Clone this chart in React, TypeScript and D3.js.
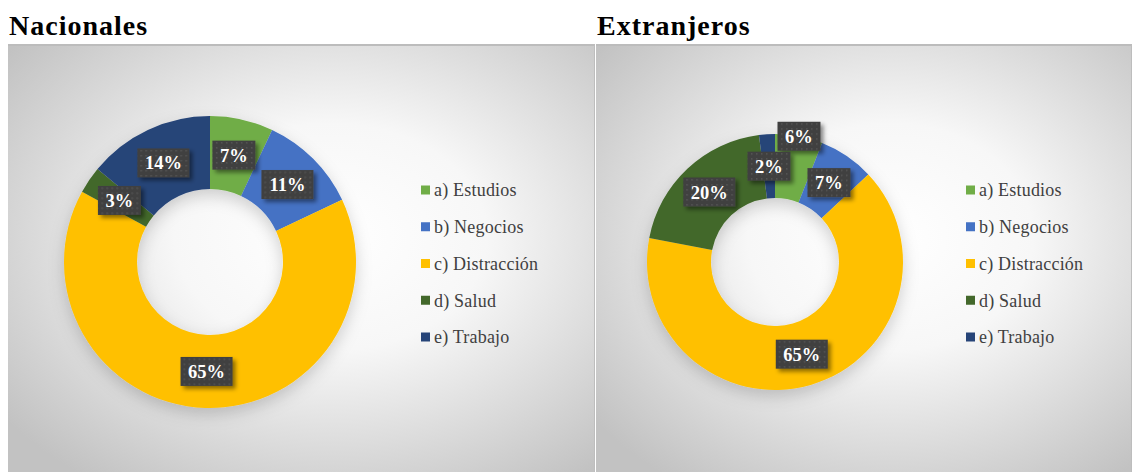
import React, { useEffect, useRef } from 'react';
import * as d3 from 'd3';

const categories = ['a) Estudios', 'b) Negocios', 'c) Distracción', 'd) Salud', 'e) Trabajo'];
const colors = ['#70AD47', '#4472C4', '#FFC000', '#43682B', '#264478'];
const nacionales = [7, 11, 65, 3, 14];
const extranjeros = [6, 7, 65, 20, 2];
const titles = ['Nacionales', 'Extranjeros'];

const W = 1132;
const H = 472;
const SERIF = "'Liberation Serif', 'Times New Roman', serif";

interface Panel {
  title: string;
  values: number[];
  x0: number;
  x1: number;
  cx: number;
  outer: number;
  legendX: number;
}

const App: React.FC = () => {
  const svgRef = useRef<SVGSVGElement>(null);

  useEffect(() => {
    if (!svgRef.current) return;
    const svg = d3.select(svgRef.current);
    svg.selectAll('*').remove();

    const defs = svg.append('defs');
    const grad = defs.append('radialGradient')
      .attr('id', 'bg')
      .attr('cx', '55%').attr('cy', '45%').attr('r', '70%');
    grad.append('stop').attr('offset', '0%').attr('stop-color', '#ffffff');
    grad.append('stop').attr('offset', '38%').attr('stop-color', '#f7f7f7');
    grad.append('stop').attr('offset', '100%').attr('stop-color', '#c2c2c2');

    // dotted texture of the label boxes
    const pat = defs.append('pattern')
      .attr('id', 'dots')
      .attr('patternUnits', 'userSpaceOnUse')
      .attr('width', 5).attr('height', 5);
    pat.append('rect').attr('width', 5).attr('height', 5).attr('fill', '#404040');
    pat.append('rect').attr('x', 2).attr('y', 2).attr('width', 1.5).attr('height', 1.5).attr('fill', '#565656');

    const shadow = defs.append('filter').attr('id', 'donutShadow')
      .attr('x', '-30%').attr('y', '-30%').attr('width', '160%').attr('height', '160%');
    shadow.append('feDropShadow')
      .attr('dx', 0).attr('dy', 6).attr('stdDeviation', 8)
      .attr('flood-color', '#000').attr('flood-opacity', 0.18);

    const boxShadow = defs.append('filter').attr('id', 'boxShadow')
      .attr('x', '-30%').attr('y', '-30%').attr('width', '170%').attr('height', '170%');
    boxShadow.append('feDropShadow')
      .attr('dx', 3).attr('dy', 3).attr('stdDeviation', 2)
      .attr('flood-color', '#000').attr('flood-opacity', 0.45);

    const panels: Panel[] = [
      { title: titles[0], values: nacionales, x0: 8, x1: 595, cx: 210, outer: 146, legendX: 421 },
      { title: titles[1], values: extranjeros, x0: 596, x1: W, cx: 775, outer: 128, legendX: 966 },
    ];
    const cy = 262;
    const top = 45;

    panels.forEach((p) => {
      // title
      svg.append('text')
        .attr('x', p.x0 + 1)
        .attr('y', 35)
        .style('font-family', SERIF)
        .style('letter-spacing', '1px')
        .attr('font-weight', 'bold')
        .attr('font-size', 28)
        .attr('fill', '#000')
        .text(p.title);

      // panel background
      svg.append('rect')
        .attr('x', p.x0).attr('y', top)
        .attr('width', p.x1 - p.x0).attr('height', H - top)
        .attr('fill', 'url(#bg)');
      svg.append('line')
        .attr('x1', p.x0).attr('x2', p.x1)
        .attr('y1', top).attr('y2', top)
        .attr('stroke', '#bcbcbc').attr('stroke-width', 2);
      svg.append('line')
        .attr('x1', p.x1 - 0.5).attr('x2', p.x1 - 0.5)
        .attr('y1', top).attr('y2', H)
        .attr('stroke', '#bdbdbd').attr('stroke-width', 1);

      const inner = p.outer * 0.5;
      const pie = d3.pie<number>().sort(null).value((d) => d);
      const arcs = pie(p.values);
      const arc = d3.arc<d3.PieArcDatum<number>>().innerRadius(inner).outerRadius(p.outer);

      const g = svg.append('g').attr('transform', `translate(${p.cx},${cy})`);
      const donut = g.append('g').attr('filter', 'url(#donutShadow)');
      donut.selectAll('path')
        .data(arcs)
        .join('path')
        .attr('d', arc)
        .attr('fill', (_, i) => colors[i]);

      // labels with simple outward push on collision
      const total = d3.sum(p.values);
      const labels = arcs.map((a, i) => {
        const text = `${Math.round((a.data / total) * 100)}%`;
        const w = text.length * 9 + 25;
        return { i, a, text, w, h: 29, x: 0, y: 0 };
      });
      const placed: typeof labels = [];
      [...labels].reverse().forEach((l) => {
        const mid = (l.a.startAngle + l.a.endAngle) / 2;
        let r = (inner + p.outer) / 2;
        const overlaps = () => placed.some((q) =>
          Math.abs(q.x - l.x) < (q.w + l.w) / 2 && Math.abs(q.y - l.y) < (q.h + l.h) / 2);
        l.x = r * Math.sin(mid);
        l.y = -r * Math.cos(mid);
        while (overlaps() && r < p.outer) {
          r += 1;
          l.x = r * Math.sin(mid);
          l.y = -r * Math.cos(mid);
        }
        placed.push(l);
      });

      labels.forEach((l) => {
        const lg = g.append('g').attr('transform', `translate(${l.x},${l.y})`);
        lg.append('rect')
          .attr('x', -l.w / 2).attr('y', -l.h / 2)
          .attr('width', l.w).attr('height', l.h)
          .attr('fill', 'url(#dots)')
          .attr('filter', 'url(#boxShadow)');
        lg.append('text')
          .attr('text-anchor', 'middle')
          .attr('dy', '0.35em')
          .style('font-family', SERIF)
          .attr('font-weight', 'bold')
          .attr('font-size', 18.5)
          .attr('fill', '#ffffff')
          .text(l.text);
      });

      // legend
      const ly = d3.scalePoint<string>().domain(categories).range([190, 337]);
      const leg = svg.append('g');
      categories.forEach((c, i) => {
        const y = ly(c) as number;
        leg.append('rect')
          .attr('x', p.legendX).attr('y', y - 4.5)
          .attr('width', 9).attr('height', 9)
          .attr('fill', colors[i]);
        leg.append('text')
          .attr('x', p.legendX + 13).attr('y', y)
          .attr('dy', '0.35em')
          .style('font-family', SERIF)
          .style('letter-spacing', '0.2px')
          .attr('font-size', 18)
          .attr('fill', '#404040')
          .text(c);
      });
    });
  }, []);

  return (
    <svg
      ref={svgRef}
      width={W}
      height={H}
      style={{ position: 'absolute', left: 0, top: 0, background: '#fff' }}
    />
  );
};

export default App;
